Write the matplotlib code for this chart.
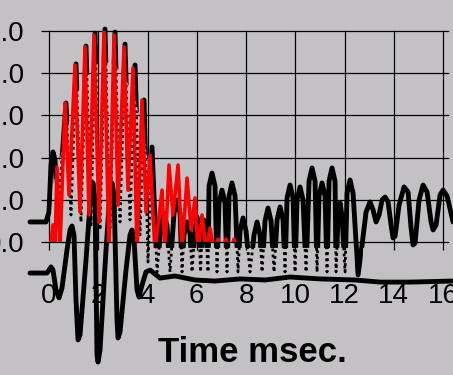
import matplotlib
matplotlib.use("Agg")
import matplotlib.pyplot as plt
from matplotlib.patches import Polygon
import numpy as np

plt.rcParams['font.family'] = ['Liberation Sans', 'DejaVu Sans']

# ---- data (time in msec, amplitude in axis units) ----
x_ticks = [0, 2, 4, 6, 8, 10, 12, 14, 16]
y_ticks = [0, 20, 40, 60, 80, 100]
y_tick_labels = ['0.0', '20.0', '40.0', '60.0', '80.0', '100.0']
x_label = 'Time msec.'

# red trace (fast oscillation, clipped at 0)
red_t = [0.041, 0.162, 0.244, 0.325, 0.447, 0.650, 0.812, 1.056, 1.259, 1.462,
         1.624, 1.827, 2.030, 2.234, 2.437, 2.640, 2.802, 3.046, 3.208, 3.411,
         3.574, 3.777, 3.939, 4.102, 4.305, 4.589, 4.711, 4.873, 5.036, 5.239,
         5.401, 5.604, 5.767, 5.929, 6.051, 6.213, 6.376, 6.538, 6.701, 6.863,
         7.025, 7.188, 7.350, 7.513, 7.675]
red_v = [-4.7, 8.1, -3.8, 35.5, -2.8, 65.9, 22.3, 83.9, 14.2, 92.4,
         12.8, 98.1, 9.5, 100.0, -4.7, 98.1, 17.5, 92.4, 24.6, 82.5,
         -4.7, 67.3, 14.2, 41.2, -4.7, 24.6, -4.7, 36.5, 12.8, 36.5,
         -4.7, 30.3, 5.7, 20.9, -4.7, 12.8, -4.7, 6.6, -4.7, 1.4,
         -4.7, 1.4, -4.7, 1.4, -4.7]

# upper black trace
a_t = [-0.772, -0.122, 0.0, 0.081, 0.162, 0.244, 0.365, 0.690, 0.893, 1.096,
       1.299, 1.503, 1.706, 1.868, 2.071, 2.274, 2.477, 2.680, 2.883, 3.086,
       3.289, 3.492, 3.695, 3.858, 4.020, 4.183, 4.386,
       4.548, 4.670, 4.792, 4.914,
       5.076, 5.198, 5.320, 5.401,
       5.482, 5.604, 5.726, 5.807,
       5.929, 6.010, 6.091, 6.152,
       6.213, 6.294, 6.376, 6.457,
       6.497, 6.619, 6.741, 6.822,
       6.903, 7.025, 7.147, 7.228,
       7.310, 7.431, 7.553, 7.675,
       7.756, 7.878, 8.000, 8.162,
       8.325, 8.447, 8.569, 8.650,
       8.772, 8.893, 9.015, 9.137,
       9.259, 9.381, 9.503, 9.584,
       9.665, 9.787, 9.909, 9.990,
       10.071, 10.193, 10.315, 10.437,
       10.558, 10.680, 10.802, 10.883,
       10.964, 11.086, 11.208, 11.289,
       11.371, 11.492, 11.614, 11.655,
       11.736, 11.817, 11.898, 12.020,
       12.102, 12.223, 12.345, 12.548,
       12.711, 12.873, 13.036, 13.157, 13.279, 13.401, 13.523, 13.645,
       13.767, 13.888, 13.970, 14.051, 14.213, 14.416, 14.579, 14.701,
       14.782, 14.863, 15.025, 15.188, 15.350, 15.513, 15.594, 15.716,
       15.878, 16.000, 16.162, 16.406]
a_v = [9.5, 9.5, 14.2, 36.5, 42.7, 38.9, 12.8, 65.9, 12.8, 84.4,
       9.5, 92.9, 8.1, 99.0, 5.7, 100.9, 6.6, 99.5, 9.5, 93.8,
       10.4, 83.9, 3.3, 67.3, -9.5, 45.0, -14.2,
       7.6, 13.3, 7.6, -14.2,
       13.7, 19.9, 13.7, -14.2,
       3.8, 9.5, 3.8, -14.2,
       5.7, 11.8, 5.7, -14.2,
       4.3, 10.4, 4.3, -14.2,
       26.5, 32.7, 26.5, -14.2,
       18.5, 24.6, 18.5, -14.2,
       21.8, 28.0, 21.8, -14.2,
       5.2, 11.4, 5.2, -14.2,
       3.3, 9.5, 3.3, -14.2,
       10.0, 16.1, 10.0, -14.2,
       10.4, 16.6, 10.4, -14.2,
       20.9, 27.0, 20.9, -14.2,
       19.9, 26.1, 19.9, -14.2,
       28.9, 35.1, 28.9, -14.2,
       21.8, 28.0, 21.8, -14.2,
       28.9, 35.1, 28.9, -14.2,
       12.3, 18.5, 12.3, -14.2,
       23.2, 29.4, 23.2, -15.6,
       -1.4, 14.2, 19.0, 15.2, 9.5, 12.8, 19.9, 21.3,
       19.0, 8.1, 1.9, 2.8, 17.5, 26.1, 23.7, 6.6,
       -1.4, -0.5, 19.9, 27.0, 23.7, 9.5, 5.7, 8.1,
       22.3, 24.6, 21.8, 9.5]

# level below which the upper trace shows as a dotted (fast) stroke
floor_t = [-1.2, 0.041, 0.162, 0.690, 1.096, 1.503, 1.868, 2.274, 2.680, 3.086,
           3.492, 3.858, 4.102, 4.223, 12.386, 12.426, 12.711, 12.751, 16.7]
floor_v = [3.3, 3.3, 27.0, 50.7, 69.7, 77.7, 83.9, 85.3, 83.9, 77.7,
           68.2, 50.7, 30.3, -2.8, -2.8, -22.7, -22.7, -2.8, -2.8]

# lower black trace
b_t = [-0.772, -0.081, 0.0, 0.081, 0.162, 0.284, 0.406, 0.528, 0.731, 0.853,
       0.934, 1.015, 1.096, 1.178, 1.259, 1.503, 1.706, 1.787, 1.868, 1.949,
       1.990, 2.071, 2.315, 2.477, 2.558, 2.640, 2.761, 2.802, 2.883, 3.127,
       3.289, 3.371, 3.452, 3.574, 3.655, 3.777, 3.939, 4.102, 4.508, 5.117,
       5.929, 6.741, 7.756, 8.772, 9.787, 11.005, 12.426, 13.442, 14.66, 16.406]
b_v = [-14.7, -14.7, -13.3, -11.8, -13.3, -22.7, -26.5, -21.8, -3.8, 5.7,
       7.6, 3.3, -27.5, -46.4, -44.1, -8.5, 24.6, 28.0, 19.9, -53.6,
       -56.9, -51.2, -3.8, 23.7, 28.0, 22.3, -37.0, -45.5, -42.7, -13.3,
       3.3, 5.7, 0.9, -22.7, -26.1, -20.4, -14.2, -13.3, -17.1, -16.1,
       -18.0, -18.5, -17.5, -18.0, -16.6, -17.5, -18.0, -19.0, -19.0, -18.5]

# ---- figure ----
bg = '#c4c1c5'
fig = plt.figure(figsize=(4.53, 3.75), dpi=100)
fig.patch.set_facecolor(bg)
ax = fig.add_axes([49 / 453, 1 - 242 / 375, 399 / 453, 211 / 375])
ax.set_facecolor(bg)
ax.set_xlim(0, 16.2)
ax.set_ylim(0, 100)
for s in ax.spines.values():
    s.set_visible(False)

# grid
for y in y_ticks:
    ax.plot([0, 16.2], [y, y], color='black', lw=0.9, clip_on=False, zorder=1)
for x in x_ticks:
    ax.plot([x, x], [0, 100], color='black', lw=0.9, clip_on=False, zorder=1)

ax.set_xticks(x_ticks)
ax.set_xticklabels([str(t) for t in x_ticks])
ax.set_yticks(y_ticks)
ax.set_yticklabels(y_tick_labels)
ax.tick_params(axis='both', direction='out', length=6, width=0.9,
               color='black', labelsize=20, labelcolor='black')
ax.tick_params(axis='y', pad=11.3)
ax.tick_params(axis='x', pad=23.5)

# lower black trace
ax.plot(b_t, b_v, color='black', lw=3.5, clip_on=False, zorder=2.5,
        solid_joinstyle='round', solid_capstyle='round')

# upper black trace: dotted everywhere, solid above the floor
ax.plot(a_t, a_v, color='black', lw=2.0, linestyle=(0, (1, 1.2)),
        clip_on=False, zorder=3)
solid, = ax.plot(a_t, a_v, color='black', lw=3.5, zorder=3.2,
                 solid_joinstyle='round', solid_capstyle='round')
poly_pts = list(zip(floor_t, floor_v)) + [(floor_t[-1], 160), (floor_t[0], 160)]
clip_poly = Polygon(poly_pts, closed=True, transform=ax.transData)
solid.set_clip_box(None)
solid.set_clip_path(clip_poly)

# red trace
ax.plot(red_t, red_v, color='#ff0000', lw=2.6, zorder=4,
        solid_joinstyle='round')

fig.text(252.5 / 453, 1 - 362 / 375, x_label, ha='center', va='baseline',
         fontsize=25, fontweight='bold', color='black')

fig.savefig('out.png', dpi=100, facecolor=bg)
